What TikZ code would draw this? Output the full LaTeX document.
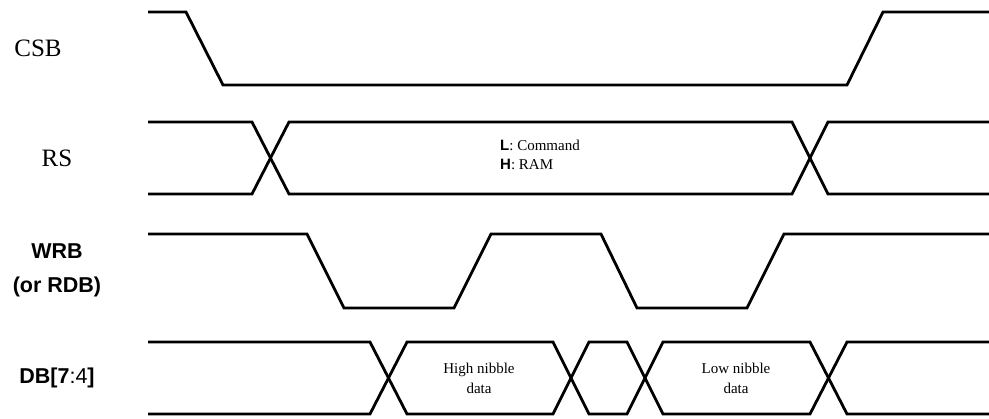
\documentclass[tikz,border=0pt]{standalone}
\usepackage{fontspec}
\setmainfont{Liberation Serif}
\newfontfamily\lsans{Liberation Sans}
\begin{document}
\begin{tikzpicture}[x=1pt,y=-1pt,
  wave/.style={line width=2.8pt, black, line join=miter},
  siglbl/.style={font=\fontsize{25}{28}\selectfont, inner sep=0pt},
  sanslbl/.style={font=\lsans\bfseries\fontsize{21.5}{34}\selectfont, inner sep=0pt, align=center},
  smalltxt/.style={font=\fontsize{15}{20}\selectfont, inner sep=0pt, align=center}]
\useasboundingbox (0,0) rectangle (989,419);
% labels
\node[siglbl] (csb) at (38,48) {CSB};
\node[siglbl] (rs) at (57,158) {RS};
\node[sanslbl] (wrb) at (57,270) {WRB\\(or RDB)};
\node[sanslbl] (db) at (57,378) {DB[7{\mdseries:4}]};
% CSB
\draw[wave] (148,12) -- (186,12) -- (223,85) -- (847,85) -- (883,12) -- (989,12);
% RS
\draw[wave] (148,122) -- (252,122) -- (289,194) -- (792,194) -- (828,122) -- (989,122);
\draw[wave] (148,194) -- (252,194) -- (289,122) -- (792,122) -- (828,194) -- (989,194);
\node[smalltxt, anchor=west] (lcmd) at (500,145) {{\lsans\bfseries L}: Command};
\node[smalltxt, anchor=west] (hram) at (500,164) {{\lsans\bfseries H}: RAM};
% WRB
\draw[wave] (148,234) -- (307,234) -- (344,308) -- (454,308) -- (491,234) -- (601,234) -- (637,308) -- (747,308) -- (784,234) -- (989,234);
% DB
\draw[wave] (148,342) -- (370,342) -- (407,414) -- (553,414) -- (589,342) -- (627,342) -- (663,414) -- (810,414) -- (847,342) -- (989,342);
\draw[wave] (148,414) -- (370,414) -- (407,342) -- (553,342) -- (589,414) -- (627,414) -- (663,342) -- (810,342) -- (847,414) -- (989,414);
\node[smalltxt] (hnib) at (479,378) {High nibble\\data};
\node[smalltxt] (lnib) at (736,378) {Low nibble\\data};
\end{tikzpicture}
\end{document}
